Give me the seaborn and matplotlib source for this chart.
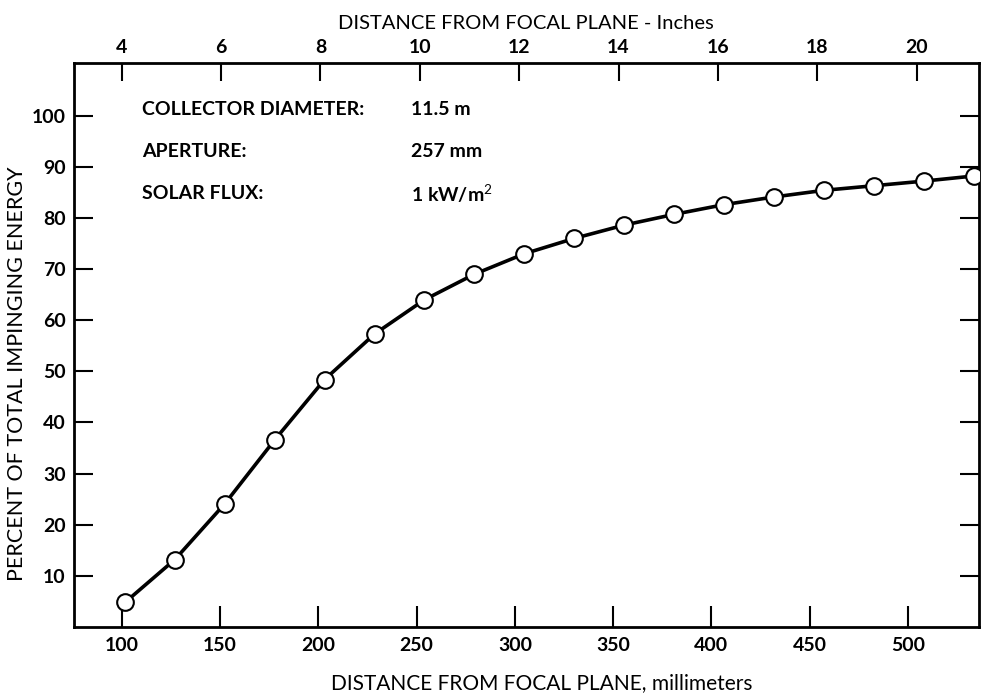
import matplotlib
matplotlib.use("Agg")
import matplotlib.pyplot as plt
import seaborn as sns
import numpy as np
import pandas as pd

# Measured points: distance from focal plane (inches) and energy captured (%)
distance_in = [4, 5, 6, 7, 8, 9, 10, 11, 12, 13, 14, 15, 16, 17, 18, 19, 20, 21]
percent_energy = [4.8, 13.2, 24.1, 36.6, 48.4, 57.3, 64.0, 69.0, 73.0, 76.0, 78.6,
                  80.7, 82.6, 84.1, 85.4, 86.3, 87.2, 88.2]

mm_ticks = [100, 150, 200, 250, 300, 350, 400, 450, 500]
inch_ticks = [4, 6, 8, 10, 12, 14, 16, 18, 20]
pct_ticks = [10, 20, 30, 40, 50, 60, 70, 80, 90, 100]

info_labels = ["COLLECTOR DIAMETER:", "APERTURE:", "SOLAR FLUX:"]
info_values = ["11.5 m", "257 mm", "1 kW/m$^{2}$"]

df = pd.DataFrame({
    "mm": np.array(distance_in) * 25.4,
    "pct": percent_energy,
})

sns.set_style("ticks")
plt.rcParams["font.family"] = ["Lato", "DejaVu Sans"]
plt.rcParams["mathtext.fontset"] = "custom"
plt.rcParams["mathtext.rm"] = "Lato"
plt.rcParams["mathtext.bf"] = "Lato:bold"
plt.rcParams["text.color"] = "black"
plt.rcParams["axes.labelcolor"] = "black"
plt.rcParams["xtick.color"] = "black"
plt.rcParams["ytick.color"] = "black"
plt.rcParams["axes.edgecolor"] = "black"

fig = plt.figure(figsize=(9.82, 6.94), dpi=100)
ax = fig.add_axes([0.0754, 0.0965, 0.9212, 0.8127])

sns.lineplot(data=df, x="mm", y="pct", ax=ax, color="black", linewidth=2.6,
             marker="o", markersize=12, markerfacecolor="white",
             markeredgecolor="black", markeredgewidth=1.5, zorder=3)

ax.set_xlim(75.7, 536.0)
ax.set_ylim(0, 110.3)
ax.set_xticks(mm_ticks)
ax.set_yticks(pct_ticks)
ax.tick_params(axis="x", direction="in", length=15, width=1.5,
               labelsize=14, pad=7)
ax.tick_params(axis="y", direction="in", length=14, width=1.5,
               labelsize=14, pad=6, right=True)
for lbl in ax.get_xticklabels() + ax.get_yticklabels():
    lbl.set_fontweight("bold")
for s in ax.spines.values():
    s.set_linewidth(2)
    s.set_visible(True)
    s.set_color("black")

ax.set_xlabel("DISTANCE FROM FOCAL PLANE, millimeters", fontsize=15)
ax.xaxis.set_label_coords(0.517, -0.0816)
ax.set_ylabel("PERCENT OF TOTAL IMPINGING ENERGY", fontsize=15.5)
ax.yaxis.set_label_coords(-0.052, 0.449)

# Upper scale in inches
top = ax.twiny()
top.set_xlim(3.04, 21.25)
top.set_xticks(inch_ticks)
top.tick_params(axis="x", direction="in", length=13, width=1.5,
                labelsize=14, pad=5, colors="black")
for lbl in top.get_xticklabels():
    lbl.set_fontweight("bold")
top.set_xlabel("DISTANCE FROM FOCAL PLANE - Inches", fontsize=14.5, labelpad=7)
for s in top.spines.values():
    s.set_visible(False)

ys = [101.3, 93.0, 84.8]
for lab, val, yv in zip(info_labels, info_values, ys):
    ax.text(110.3, yv, lab, fontsize=14, fontweight="bold", va="center", ha="left")
    ax.text(247, yv, val, fontsize=14, fontweight="bold", va="center", ha="left")

fig.savefig("out.png", dpi=100)
